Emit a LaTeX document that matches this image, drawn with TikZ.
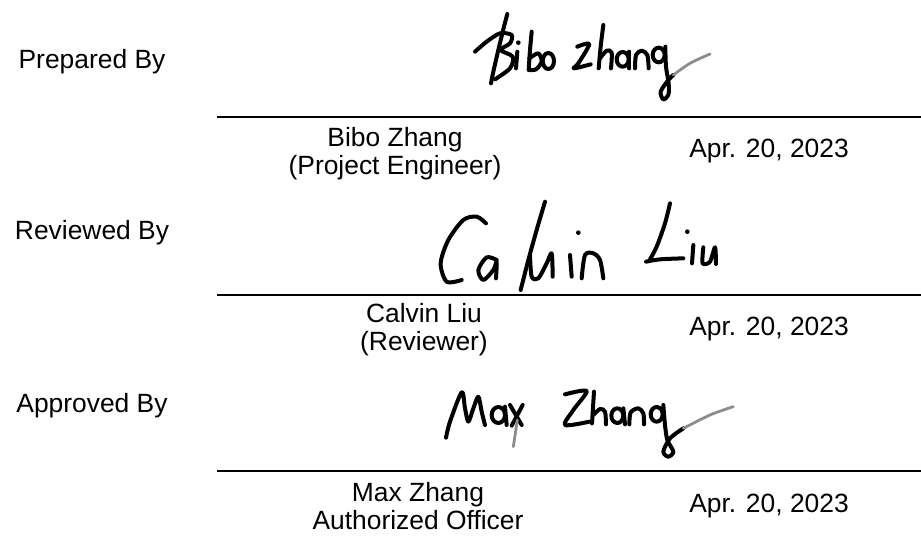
\documentclass[tikz,border=0pt]{standalone}
\usepackage{fontspec}
\setmainfont{Liberation Sans}
\usetikzlibrary{positioning}

\begin{document}
\begin{tikzpicture}[x=0.5pt,y=-0.5pt,
    role/.style={font=\fontsize{13.2}{15.2}\selectfont},
    signer/.style={font=\fontsize{13.2}{14}\selectfont,align=center},
    datetxt/.style={font=\fontsize{13.2}{15.2}\selectfont},
    ink/.style={line width=2pt,line cap=round,line join=round},
    fade/.style={ink,draw=black!45,line width=1.4pt}]
  \useasboundingbox (0,0) rectangle (921,540);
  \draw[line width=1pt]
      (217,117) coordinate (l1a) -- (921,117) coordinate (l1b)
      (217,295) coordinate (l2a) -- (921,295) coordinate (l2b)
      (217,471) coordinate (l3a) -- (921,471) coordinate (l3b)
  ;
  \path
      (92,62)  node[role] (prep) {Prepared By}
      (92,233) node[role] (rev) {Reviewed By}
      (92,406) node[role] (appr) {Approved By}
      (395,154) node[signer] (prepname) {Bibo Zhang\\(Project Engineer)}
      (424,330) node[signer] (revname) {Calvin Liu\\(Reviewer)}
      (418,506) node[signer] (apprname) {Max Zhang\\Authorized Officer}
      (769,151) node[datetxt] (prepdate) {Apr. 20, 2023}
      (769,329) node[datetxt] (revdate) {Apr. 20, 2023}
      (769,506) node[datetxt] (apprdate) {Apr. 20, 2023}
  ;
  % Bibo zhang
  \begin{scope}[shift={(430,0)},scale=1/3]
    \draw[ink] plot[smooth] coordinates {(232,42) (222,80) (205,150) (190,215) (183,250)};
    \draw[ink] plot[smooth] coordinates {(135,155) (170,125) (210,100) (245,105) (240,130) (212,150) (248,170) (240,205) (195,238)};
    \draw[ink] (262,155) -- (258,205);
    \fill (265,128) circle (7);
    \draw[ink] plot[smooth] coordinates {(305,95) (300,150) (296,210)};
    \draw[ink] plot[smooth] coordinates {(298,175) (325,160) (335,185) (318,208) (297,210)};
    \draw[ink] (355,183) ellipse (17 and 24);
    \draw[ink] plot[smooth] coordinates {(442,140) (478,132) (445,190) (432,205) (482,193)};
    \draw[ink] plot[smooth] coordinates {(520,75) (512,140) (506,205)};
    \draw[ink] plot[smooth] coordinates {(510,175) (530,152) (545,158) (543,205)};
    \draw[ink] (578,178) ellipse (18 and 22);
    \draw[ink] (598,155) -- (598,205);
    \draw[ink] plot[smooth] coordinates {(615,205) (618,165) (635,152) (652,165) (656,205)};
    \draw[ink] (686,165) ellipse (18 and 22);
    \draw[ink] plot[smooth] coordinates {(706,140) (708,200) (716,250) (715,285) (700,298) (692,275) (715,240) (730,225)};
    \draw[fade] plot[smooth] coordinates {(730,225) (780,190) (840,162)};
  \end{scope}
  % Calvin Liu
  \begin{scope}[shift={(430,170)},scale=1/3]
    \draw[ink] plot[smooth] coordinates {(168,160) (140,140) (100,150) (55,210) (32,280) (50,335) (95,330)};
    \draw[ink] plot[smooth] coordinates {(200,270) (170,262) (145,300) (160,330) (190,300) (200,275) (198,325)};
    \draw[ink] plot[smooth] coordinates {(345,95) (320,180) (295,270) (272,360)};
    \draw[ink] plot[smooth] coordinates {(300,255) (305,320) (325,325) (350,280) (365,250) (368,320)};
    \draw[ink] (420,255) -- (425,320);
    \fill (445,188) circle (7);
    \draw[ink] plot[smooth] coordinates {(455,325) (465,255) (490,250) (510,270) (520,325)};
    \draw[ink] plot[smooth] coordinates {(720,100) (705,160) (680,230) (660,268)};
    \draw[ink] plot[smooth] coordinates {(648,275) (690,268) (760,265)};
    \draw[ink] (790,225) -- (786,280);
    \fill (772,185) circle (7);
    \draw[ink] plot[smooth] coordinates {(820,232) (818,280) (840,275) (855,232) (858,282)};
  \end{scope}
  % Max Zhang
  \begin{scope}[shift={(430,355)},scale=1/3]
    \draw[ink] plot[smooth] coordinates {(48,248) (60,200) (95,112) (105,160) (115,200) (130,160) (145,125) (155,170) (165,210)};
    \draw[ink] (205,180) ellipse (20 and 24);
    \draw[ink] (225,155) -- (230,210);
    \draw[ink] (240,150) -- (275,210);
    \draw[ink] (278,150) -- (245,212);
    \draw[fade] (262,195) -- (250,275);
    \draw[ink] plot[smooth] coordinates {(405,118) (470,108) (430,165) (405,210) (478,200)};
    \draw[ink] (492,110) -- (486,205);
    \draw[ink] plot[smooth] coordinates {(490,180) (510,162) (525,170) (528,208)};
    \draw[ink] (562,182) ellipse (18 and 22);
    \draw[ink] (580,160) -- (585,208);
    \draw[ink] plot[smooth] coordinates {(598,208) (602,172) (625,160) (640,175) (642,208)};
    \draw[ink] (680,178) ellipse (18 and 22);
    \draw[ink] plot[smooth] coordinates {(700,150) (705,210) (712,255) (730,290) (715,305) (700,290) (720,250) (760,220)};
    \draw[fade] plot[smooth] coordinates {(760,220) (840,180) (910,155)};
  \end{scope}
\end{tikzpicture}
\end{document}
